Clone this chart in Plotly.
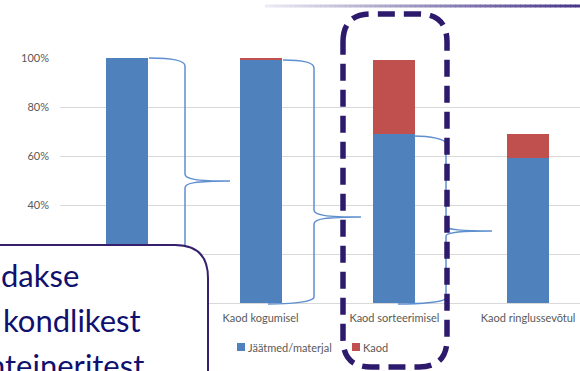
import plotly.graph_objects as go

# Stage labels (the first column's label sits under the callout box)
tick_labels = ["", "Kaod kogumisel", "Kaod sorteerimisel", "Kaod ringlussevõtul"]
positions = [0, 1, 2, 3]
material = [100, 99, 69, 59]   # Jäätmed/materjal, %
losses = [0, 1, 30, 10]        # Kaod, %
y_ticks = [0, 20, 40, 60, 80, 100]
y_tick_text = ["", "", "40%", "60%", "80%", "100%"]  # lower two sit under the callout box
series_names = ["Jäätmed/materjal", "Kaod"]

W, H = 580, 371
BLUE, RED = "#4f81bd", "#c0504d"
GRID, TICK = "#d9d9d9", "#595959"
FONT = "Lato"


def X(px):
    return px / W


def Y(py):
    return 1 - py / H


def path(cmds):
    out = []
    for letter, pts in cmds:
        coords = " ".join(f"{X(pts[i]):.5f},{Y(pts[i + 1]):.5f}" for i in range(0, len(pts), 2))
        out.append(f"{letter} {coords}".strip())
    return " ".join(out)


fig = go.Figure()
fig.add_trace(go.Bar(x=positions, y=material, name=series_names[0],
                     marker=dict(color=BLUE, line=dict(width=0)), width=0.314))
fig.add_trace(go.Bar(x=positions, y=losses, name=series_names[1],
                     marker=dict(color=RED, line=dict(width=0)), width=0.314))

shapes = []
annotations = []

# gradient rule along the top of the slide
n_seg = 63
c0, c1 = (236, 234, 243), (72, 56, 138)
for i in range(n_seg):
    t = i / (n_seg - 1)
    col = tuple(round(c0[k] + (c1[k] - c0[k]) * t) for k in range(3))
    x0 = 265 + i * (315 / n_seg)
    shapes.append(dict(type="rect", xref="paper", yref="paper",
                       x0=X(x0), x1=X(x0 + 315 / n_seg + 0.6), y0=Y(7.5), y1=Y(4.5),
                       fillcolor=f"rgb{col}", line=dict(width=0), layer="above"))

# curly braces between the columns
brace_style = dict(color="#5e8fcf", width=1.5)
braces = [
    [("M", [149, 58]), ("C", [170, 58, 185, 60, 185, 66]), ("L", [185, 174]),
     ("C", [185, 179, 195, 181, 230, 181]), ("C", [195, 181, 185, 183, 185, 188]),
     ("L", [185, 296]), ("C", [185, 302, 170, 303, 149, 303])],
    [("M", [283, 60]), ("C", [300, 60, 314, 62, 314, 68]), ("L", [314, 210]),
     ("C", [314, 215, 325, 217, 361, 217]), ("C", [325, 217, 314, 219, 314, 224]),
     ("L", [314, 297]), ("C", [314, 302, 290, 304, 268, 304])],
    [("M", [414, 136]), ("C", [430, 136, 446, 139, 446, 144]), ("L", [446, 226]),
     ("C", [446, 229, 455, 231, 492, 231]), ("C", [455, 231, 446, 233, 446, 236]),
     ("L", [446, 298]), ("C", [446, 302, 420, 304, 398, 304])],
]
for b in braces:
    shapes.append(dict(type="path", xref="paper", yref="paper", path=path(b),
                       line=brace_style, layer="above"))

# legend: small swatches followed by series names
legend_items = [(series_names[0], BLUE, 237), (series_names[1], RED, 352)]
for name, color, sx in legend_items:
    shapes.append(dict(type="rect", xref="paper", yref="paper",
                       x0=X(sx), x1=X(sx + 8), y0=Y(351), y1=Y(343),
                       fillcolor=color, line=dict(width=0), layer="above"))
    annotations.append(dict(text=name, xref="paper", yref="paper", x=X(sx + 10),
                            y=Y(347), xanchor="left", yanchor="middle",
                            showarrow=False, borderpad=0,
                            font=dict(family=FONT, size=11, color=TICK)))

# dashed highlight around the sorting stage
r = 28
L_, R_, T_, B_ = 343, 447, 14, 367
frame = [("M", [L_, T_ + r]), ("Q", [L_, T_, L_ + r, T_]), ("L", [R_ - r, T_]),
         ("Q", [R_, T_, R_, T_ + r]), ("L", [R_, B_ - r]), ("Q", [R_, B_, R_ - r, B_]),
         ("L", [L_ + r, B_]), ("Q", [L_, B_, L_, B_ - r]), ("Z", [])]
shapes.append(dict(type="path", xref="paper", yref="paper", path=path(frame),
                   line=dict(color="#2e1a6c", width=5.5, dash="17px,9px"), layer="above"))

# callout box in the lower left
box = [("M", [-10, 245]), ("L", [175, 245]), ("Q", [208, 245, 208, 278]),
       ("L", [208, 390]), ("L", [-10, 390]), ("Z", [])]
shapes.append(dict(type="path", xref="paper", yref="paper", path=path(box),
                   fillcolor="white", line=dict(color="#36206e", width=2), layer="above"))

callout_lines = [("dakse", 0, 275), ("kondlikest", 2, 320), ("nteineritest", -13, 365)]
for t, x, y in callout_lines:
    annotations.append(dict(text=t, xref="paper", yref="paper", x=X(x), y=Y(y),
                            xanchor="left", yanchor="middle", showarrow=False,
                            borderpad=0,
                            font=dict(family=FONT, size=31, color="#10106e")))

fig.update_layout(
    width=W, height=H, margin=dict(l=0, r=0, t=0, b=0),
    paper_bgcolor="white", plot_bgcolor="white",
    barmode="stack", bargap=0, showlegend=False,
    font=dict(family=FONT, size=11, color=TICK),
    xaxis=dict(domain=[X(60), 1], range=[-0.5, 3.388], tickvals=positions,
               ticktext=tick_labels, showgrid=False, zeroline=False, automargin=False,
               showline=True, linecolor=GRID, linewidth=1, ticks="",
               ticklabelstandoff=5, tickfont=dict(size=11, color=TICK)),
    yaxis=dict(domain=[Y(303), Y(58)], range=[0, 100], tickvals=y_ticks,
               ticktext=y_tick_text, showgrid=True, gridcolor=GRID, gridwidth=1,
               zeroline=False, showline=False, ticks="", ticklabelstandoff=10,
               automargin=False, tickfont=dict(size=11, color=TICK)),
    shapes=shapes, annotations=annotations,
)

fig.write_html("out.html")
